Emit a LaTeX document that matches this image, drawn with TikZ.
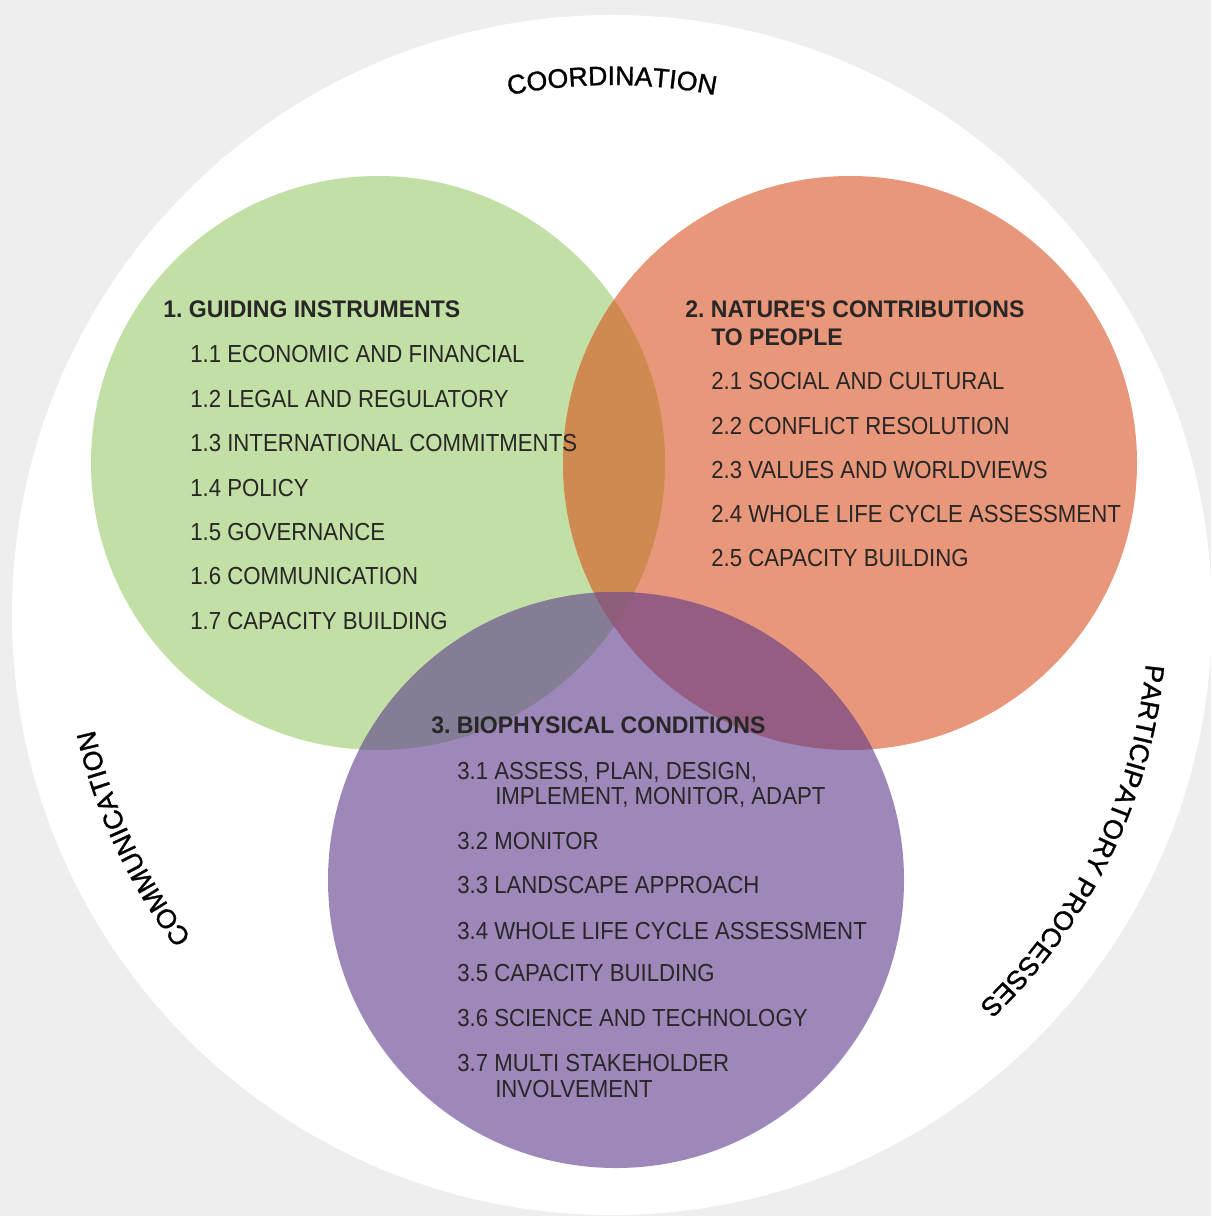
\documentclass[tikz,border=0pt]{standalone}
\usepackage{fontspec}
\usetikzlibrary{decorations.text}

\newfontfamily\itemfont{Liberation Sans}[FakeStretch=0.9]
\newfontfamily\headfont{Liberation Sans}[FakeStretch=0.96]
\newfontfamily\ringfont{Liberation Sans}[FakeBold=1.2]

\definecolor{pagegray}{RGB}{238,238,238}
\definecolor{guidegreen}{RGB}{194,224,166}
\definecolor{naturered}{RGB}{232,151,122}
\definecolor{biopurple}{RGB}{158,136,186}
\definecolor{greenred}{RGB}{207,138,82}
\definecolor{greenpurple}{RGB}{133,124,150}
\definecolor{redpurple}{RGB}{149,93,130}
\definecolor{allthree}{RGB}{140,94,120}
\definecolor{vennink}{RGB}{40,38,38}

\tikzset{
  item/.style={anchor=base west, inner sep=0pt, text=vennink, font=\itemfont\frenchspacing\fontsize{18.5}{22}\selectfont},
  head/.style={item, font=\headfont\frenchspacing\bfseries\fontsize{18}{22}\selectfont},
  ring/.style={decorate, decoration={text along path, text align=center, text color=black,
      text={|\ringfont\fontsize{20}{24}\selectfont|#1}}},
}

\begin{document}
\begin{tikzpicture}[x=0.75pt,y=-0.75pt]
    \useasboundingbox (0,0) rectangle (1211,1216);
    \fill[pagegray] (0,0) rectangle (1211,1216);

    \coordinate (ring) at (612,615);
    \coordinate (gc) at (378,463);
    \coordinate (rc) at (850,463);
    \coordinate (pc) at (616,880);

    %Shape: outer ring
    \fill[white] (ring) circle [radius=600];

    %Shape: three circles
    \fill[guidegreen] (gc) circle [radius=287];
    \fill[naturered] (rc) circle [radius=287];
    \fill[biopurple] (pc) circle [radius=288];

    %Shape: overlaps
    \begin{scope}
      \clip (gc) circle [radius=287];
      \fill[greenred] (rc) circle [radius=287];
      \fill[greenpurple] (pc) circle [radius=288];
    \end{scope}
    \begin{scope}
      \clip (rc) circle [radius=287];
      \fill[redpurple] (pc) circle [radius=288];
      \clip (pc) circle [radius=288];
      \fill[allthree] (gc) circle [radius=287];
    \end{scope}

    %Curved text on the ring
    \path[ring=COORDINATION] (ring) ++(-135:530) arc[start angle=-135, end angle=-45, radius=530];
    \path[ring=COMMUNICATION] (ring) ++(110:530) arc[start angle=110, end angle=200, radius=530];
    \path[ring=PARTICIPATORY PROCESSES] (ring) ++(-19:536) arc[start angle=-19, end angle=71, radius=536];

    % Text Node: guiding instruments
    \node[head] (g0) at (163,317) {1. GUIDING INSTRUMENTS};
    \node[item] (g1) at (190,362) {1.1 ECONOMIC AND FINANCIAL};
    \node[item] (g2) at (190,407) {1.2 LEGAL AND REGULATORY};
    \node[item] (g3) at (190,451) {1.3 INTERNATIONAL COMMITMENTS};
    \node[item] (g4) at (190,496) {1.4 POLICY};
    \node[item] (g5) at (190,540) {1.5 GOVERNANCE};
    \node[item] (g6) at (190,584) {1.6 COMMUNICATION};
    \node[item] (g7) at (190,629) {1.7 CAPACITY BUILDING};

    % Text Node: nature's contributions
    \node[head] (r0) at (685,317) {2. NATURE'S CONTRIBUTIONS};
    \node[head] (r0b) at (711,345) {TO PEOPLE};
    \node[item] (r1) at (711,389) {2.1 SOCIAL AND CULTURAL};
    \node[item] (r2) at (711,434) {2.2 CONFLICT RESOLUTION};
    \node[item] (r3) at (711,478) {2.3 VALUES AND WORLDVIEWS};
    \node[item] (r4) at (711,522) {2.4 WHOLE LIFE CYCLE ASSESSMENT};
    \node[item] (r5) at (711,566) {2.5 CAPACITY BUILDING};

    % Text Node: biophysical conditions
    \node[head] (p0) at (431,733) {3. BIOPHYSICAL CONDITIONS};
    \node[item] (p1) at (457,779) {3.1 ASSESS, PLAN, DESIGN,};
    \node[item] (p1b) at (495,804) {IMPLEMENT, MONITOR, ADAPT};
    \node[item] (p2) at (457,849) {3.2 MONITOR};
    \node[item] (p3) at (457,893) {3.3 LANDSCAPE APPROACH};
    \node[item] (p4) at (457,939) {3.4 WHOLE LIFE CYCLE ASSESSMENT};
    \node[item] (p5) at (457,981) {3.5 CAPACITY BUILDING};
    \node[item] (p6) at (457,1026) {3.6 SCIENCE AND TECHNOLOGY};
    \node[item] (p7) at (457,1071) {3.7 MULTI STAKEHOLDER};
    \node[item] (p7b) at (495,1097) {INVOLVEMENT};
\end{tikzpicture}
\end{document}
